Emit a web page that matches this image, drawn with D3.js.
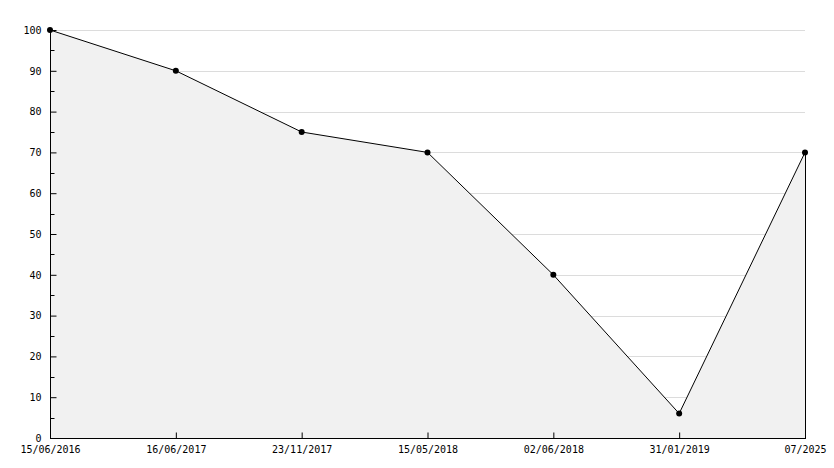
<!DOCTYPE html>
<html><head><meta charset="utf-8">
<script src="https://cdn.jsdelivr.net/npm/d3@7"></script>
<style>body{margin:0;background:#fff}svg{display:block}</style>
</head><body>
<script>
const categories = ["15/06/2016","16/06/2017","23/11/2017","15/05/2018","02/06/2018","31/01/2019","07/2025"];
const values = [100, 90, 75, 70, 40, 6, 70];
const yTicks = [0,10,20,30,40,50,60,70,80,90,100];
const yMinor = [5,15,25,35,45,55,65,75,85,95];

const W = 834, H = 468;
const m = {left: 50, right: 29, top: 30, bottom: 30};
const svg = d3.select("body").append("svg").attr("width", W).attr("height", H)
  .style("font-family", "'DejaVu Sans Mono', monospace").style("font-size", "10px");

const x = d3.scalePoint().domain(categories).range([m.left, W - m.right]);
const y = d3.scaleLinear().domain([0, 100]).range([H - m.bottom, m.top]);

// grid
svg.append("g").selectAll("line").data(yTicks.filter(d => d > 0)).join("line")
  .attr("x1", m.left).attr("x2", W - m.right)
  .attr("y1", d => Math.round(y(d)) + 0.5).attr("y2", d => Math.round(y(d)) + 0.5)
  .attr("stroke", "#dcdcdc").attr("stroke-width", 1);

const data = categories.map((c, i) => ({c, v: values[i]}));
const area = d3.area().x(d => x(d.c)).y0(y(0)).y1(d => y(d.v));
svg.append("path").datum(data).attr("d", area).attr("fill", "#f1f1f1");

// right edge of area
const last = data[data.length - 1];
svg.append("line").attr("x1", x(last.c) + 0.5).attr("x2", x(last.c) + 0.5)
  .attr("y1", y(last.v)).attr("y2", y(0)).attr("stroke", "#000");

const line = d3.line().x(d => x(d.c)).y(d => y(d.v));
svg.append("path").datum(data).attr("d", line).attr("fill", "none").attr("stroke", "#000").attr("stroke-width", 1);

svg.append("g").selectAll("circle").data(data).join("circle")
  .attr("cx", d => x(d.c)).attr("cy", d => y(d.v)).attr("r", 3).attr("fill", "#000");

// y axis
const yAxis = d3.axisLeft(y).tickValues(yTicks).tickSize(-6).tickPadding(9);
const gy = svg.append("g").attr("transform", `translate(${m.left + 0.5},0)`).call(yAxis);
gy.select(".domain").attr("d", `M0,${m.top}V${y(0)}`);
gy.selectAll(".tick line").attr("stroke", "#000");
gy.selectAll(".tick text").attr("fill", "#000").style("font-family", "'DejaVu Sans Mono', monospace").style("font-size", "10px");
gy.selectAll(".tick").filter(d => d === 0).select("line").remove();
gy.selectAll(".minor").data(yMinor).join("line").attr("class", "minor")
  .attr("x1", 0).attr("x2", 4).attr("y1", d => Math.round(y(d)) + 0.5).attr("y2", d => Math.round(y(d)) + 0.5)
  .attr("stroke", "#000");

// x axis
const xAxis = d3.axisBottom(x).tickSize(-6).tickPadding(7);
const gx = svg.append("g").attr("transform", `translate(0,${y(0) + 0.5})`).call(xAxis);
gx.select(".domain").attr("d", `M${m.left},0H${W - m.right + 1}`);
gx.selectAll(".tick line").attr("stroke", "#000");
gx.selectAll(".tick text").attr("fill", "#000").style("font-family", "'DejaVu Sans Mono', monospace").style("font-size", "10px");
gx.selectAll(".tick").filter((d, i) => i === 0).select("line").remove();
</script>
</body></html>
